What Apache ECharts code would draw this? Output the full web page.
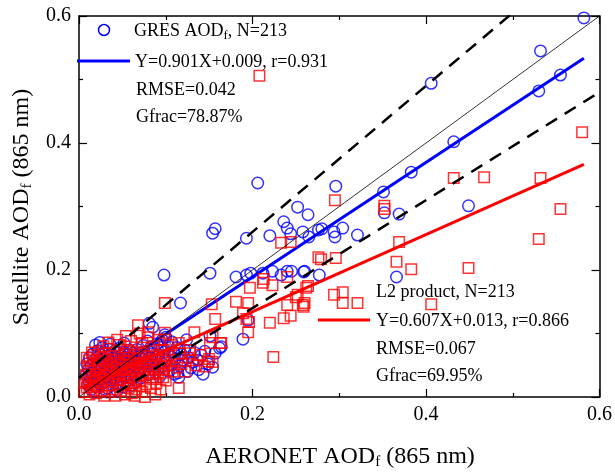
<!DOCTYPE html>
<html>
<head>
<meta charset="utf-8">
<script src="https://cdn.jsdelivr.net/npm/echarts@6/dist/echarts.min.js"></script>
<style>html,body{margin:0;padding:0;background:#fff}#c{width:615px;height:473px}</style>
</head>
<body>
<div id="c"></div>
<script>
// ---- data ----
var axisTicks = [0.0, 0.2, 0.4, 0.6];
var gresFit = [0.901, 0.009];      // slope, intercept
var l2Fit = [0.607, 0.013];
var envelope = [0.03, 0.15];       // +-(a + b*x)
var fitRange = [0.005, 0.582];

var gresPoints = [
[0.582,0.597],[0.532,0.545],[0.555,0.507],[0.530,0.482],[0.406,0.494],[0.432,0.402],[0.383,0.354],[0.351,0.323],
[0.296,0.332],[0.449,0.301],[0.352,0.290],[0.369,0.288],[0.252,0.299],[0.264,0.287],[0.206,0.337],[0.154,0.258],
[0.157,0.265],[0.193,0.250],[0.220,0.254],[0.236,0.276],[0.240,0.266],[0.244,0.257],[0.258,0.260],[0.265,0.252],
[0.276,0.263],[0.280,0.265],[0.294,0.260],[0.295,0.252],[0.304,0.266],[0.321,0.255],[0.259,0.197],[0.277,0.192],
[0.366,0.189],[0.098,0.192],[0.151,0.195],[0.181,0.189],[0.193,0.192],[0.198,0.195],[0.212,0.195],[0.223,0.198],
[0.233,0.192],[0.240,0.198],[0.245,0.198],[0.260,0.198],[0.117,0.148],[0.195,0.121],[0.189,0.091],[0.164,0.079],
[0.151,0.096],[0.162,0.077],[0.131,0.055],[0.154,0.047],[0.115,0.031],[0.085,0.110],[0.081,0.116],[0.124,0.090],
[0.099,0.098],[0.114,0.038],
[0.008,0.035],[0.009,0.052],[0.010,0.020],[0.011,0.044],[0.012,0.062],[0.013,0.030],[0.014,0.012],[0.014,0.050],
[0.015,0.038],[0.016,0.068],[0.017,0.025],[0.017,0.057],[0.018,0.045],[0.019,0.082],[0.019,0.016],[0.020,0.034],
[0.021,0.063],[0.021,0.050],[0.022,0.073],[0.023,0.028],[0.023,0.041],[0.024,0.058],[0.025,0.019],[0.025,0.066],
[0.026,0.047],[0.027,0.035],[0.027,0.078],[0.028,0.055],[0.029,0.024],[0.029,0.062],[0.030,0.043],[0.031,0.070],
[0.031,0.031],[0.032,0.052],[0.033,0.014],[0.033,0.064],[0.034,0.040],[0.035,0.075],[0.035,0.057],[0.036,0.027],
[0.037,0.048],[0.037,0.068],[0.038,0.036],[0.039,0.060],[0.039,0.019],[0.040,0.051],[0.041,0.072],[0.041,0.042],
[0.042,0.030],[0.043,0.063],[0.043,0.054],[0.044,0.022],[0.045,0.045],[0.045,0.069],[0.046,0.036],[0.047,0.058],
[0.047,0.077],[0.048,0.028],[0.049,0.049],[0.049,0.065],[0.050,0.040],[0.051,0.056],[0.051,0.016],[0.052,0.071],
[0.053,0.033],[0.053,0.048],[0.054,0.062],[0.055,0.025],[0.055,0.042],[0.056,0.066],[0.057,0.053],[0.058,0.036],
[0.058,0.074],[0.059,0.046],[0.060,0.060],[0.061,0.029],[0.061,0.052],[0.062,0.069],[0.063,0.040],[0.064,0.057],
[0.065,0.034],[0.065,0.064],[0.066,0.048],[0.067,0.075],[0.068,0.055],[0.069,0.038],[0.070,0.063],[0.071,0.045],
[0.072,0.070],[0.073,0.052],[0.074,0.081],[0.075,0.060],[0.076,0.042],[0.077,0.067],[0.078,0.054],[0.079,0.088],
[0.080,0.072],[0.081,0.048],[0.082,0.062],[0.083,0.079],[0.084,0.056],[0.085,0.068],[0.086,0.043],[0.087,0.074],
[0.088,0.060],[0.090,0.084],[0.091,0.052],[0.092,0.066],[0.094,0.078],[0.095,0.047],[0.096,0.090],[0.097,0.061],
[0.098,0.071],[0.100,0.094],[0.101,0.057],[0.103,0.080],[0.104,0.066],[0.106,0.050],[0.107,0.087],[0.109,0.071],
[0.111,0.060],[0.113,0.078],[0.116,0.049],[0.118,0.067],[0.120,0.058],[0.122,0.074],[0.126,0.062],[0.129,0.046],
[0.133,0.070],[0.137,0.058],[0.141,0.066],[0.145,0.072],[0.149,0.052],[0.157,0.069],
[0.012,0.024],[0.018,0.009],[0.024,0.086],[0.030,0.012],[0.036,0.083],[0.044,0.010],[0.052,0.085],[0.060,0.018],
[0.066,0.024],[0.071,0.030],[0.080,0.035],[0.088,0.038],[0.093,0.032],[0.103,0.041],[0.110,0.036],[0.125,0.040],
[0.138,0.043],[0.143,0.036]
];

var l2Points = [
[0.580,0.417],[0.432,0.345],[0.467,0.346],[0.532,0.345],[0.208,0.506],[0.295,0.310],[0.352,0.301],[0.352,0.296],
[0.555,0.296],[0.530,0.249],[0.449,0.203],[0.406,0.146],[0.383,0.201],[0.366,0.213],[0.369,0.244],[0.296,0.219],
[0.279,0.217],[0.294,0.161],[0.304,0.165],[0.304,0.148],[0.321,0.148],[0.264,0.175],[0.262,0.172],[0.258,0.145],
[0.259,0.142],[0.250,0.157],[0.233,0.243],[0.244,0.244],[0.276,0.220],[0.213,0.186],[0.212,0.180],[0.223,0.176],
[0.240,0.189],[0.197,0.172],[0.252,0.161],[0.181,0.150],[0.195,0.148],[0.240,0.145],[0.260,0.148],[0.189,0.132],
[0.193,0.123],[0.196,0.118],[0.244,0.128],[0.236,0.124],[0.220,0.117],[0.195,0.102],[0.164,0.085],[0.224,0.063],
[0.153,0.146],[0.099,0.148],[0.157,0.123],[0.133,0.102],[0.151,0.085],[0.163,0.085],[0.080,0.102],[0.099,0.101],
[0.099,0.090],[0.154,0.094],[0.115,0.085],[0.128,0.074],[0.128,0.069],[0.116,0.069],[0.150,0.060],[0.154,0.055],
[0.131,0.058],[0.099,0.061],[0.099,0.054],[0.097,0.038],[0.097,0.031],[0.115,0.014],[0.082,0.031],[0.070,0.017],
[0.068,0.113],[0.073,0.085],
[0.006,0.008],[0.007,0.022],[0.008,0.035],[0.009,0.015],[0.010,0.048],[0.011,0.028],[0.012,0.004],[0.012,0.058],
[0.013,0.040],[0.014,0.018],[0.015,0.032],[0.016,0.052],[0.016,0.010],[0.017,0.066],[0.018,0.026],[0.019,0.044],
[0.020,0.006],[0.020,0.036],[0.021,0.058],[0.022,0.016],[0.023,0.048],[0.023,0.072],[0.024,0.030],[0.025,0.040],
[0.026,0.010],[0.026,0.062],[0.027,0.022],[0.028,0.052],[0.029,0.034],[0.029,0.002],[0.030,0.068],[0.031,0.044],
[0.032,0.018],[0.032,0.056],[0.033,0.028],[0.034,0.076],[0.035,0.038],[0.035,0.008],[0.036,0.050],[0.037,0.064],
[0.038,0.024],[0.038,0.042],[0.039,0.012],[0.040,0.058],[0.041,0.032],[0.042,0.070],[0.042,0.002],[0.043,0.046],
[0.044,0.020],[0.045,0.054],[0.045,0.036],[0.046,0.082],[0.047,0.028],[0.048,0.062],[0.048,0.010],[0.049,0.042],
[0.050,0.050],[0.051,0.018],[0.052,0.068],[0.052,0.034],[0.053,0.004],[0.054,0.056],[0.055,0.026],[0.055,0.044],
[0.056,0.074],[0.057,0.014],[0.058,0.038],[0.058,0.062],[0.059,0.030],[0.060,0.088],[0.060,0.050],[0.061,0.006],
[0.062,0.042],[0.063,0.066],[0.063,0.022],[0.064,0.054],[0.065,0.034],[0.066,0.078],[0.066,0.012],[0.067,0.046],
[0.068,0.060],[0.069,0.026],[0.070,0.040],[0.071,0.070],[0.072,0.052],[0.073,0.008],[0.074,0.034],[0.075,0.064],
[0.076,0.044],[0.077,0.020],[0.078,0.056],[0.079,0.094],[0.080,0.038],[0.081,0.072],[0.082,0.048],[0.083,0.014],
[0.084,0.060],[0.085,0.028],[0.086,0.080],[0.087,0.042],[0.088,0.052],[0.089,0.022],[0.090,0.066],[0.091,0.036],
[0.092,0.090],[0.093,0.048],[0.094,0.012],[0.095,0.058],[0.096,0.074],[0.098,0.044],[0.100,0.026],[0.102,0.064],
[0.104,0.050],[0.106,0.082],[0.108,0.040],[0.110,0.058],[0.113,0.046],[0.118,0.052],[0.122,0.040],[0.126,0.062],
[0.135,0.050],[0.140,0.066],[0.145,0.048],[0.148,0.056],[0.088,0.004],[0.076,0.000],[0.064,0.002],[0.044,0.090],
[0.054,0.096],[0.070,0.100],[0.034,0.086],[0.028,0.080],[0.015,0.070],[0.009,0.062]
];

var gresLegend = ['GRES AOD{s|f}, N=213', 'Y=0.901X+0.009, r=0.931', 'RMSE=0.042', 'Gfrac=78.87%'];
var l2Legend = ['L2 product, N=213', 'Y=0.607X+0.013, r=0.866', 'RMSE=0.067', 'Gfrac=69.95%'];

// ---- chart ----
var FONT = '"Liberation Serif", "Times New Roman", serif';
var chart = echarts.init(document.getElementById('c'), null, {renderer: 'canvas'});

function fitLine(f) {
  return [[fitRange[0], f[0] * fitRange[0] + f[1]], [fitRange[1], f[0] * fitRange[1] + f[1]]];
}
var upperEnv = [[0, envelope[0]], [0.6, envelope[0] + (1 + envelope[1]) * 0.6]];
var lowerEnv = [[0, -envelope[0]], [0.6, -envelope[0] + (1 - envelope[1]) * 0.6]];

function axisCommon(pos, showLabel) {
  return {
    type: 'value', min: 0, max: 0.6, interval: 0.2, position: pos,
    axisLine: {show: true, onZero: false, lineStyle: {color: '#000', width: 1.5}},
    axisTick: {show: true, inside: true, length: 8, lineStyle: {color: '#000', width: 1.2}},
    minorTick: {show: true, splitNumber: 2, length: 4, lineStyle: {color: '#000', width: 1.2}},
    splitLine: {show: false}, minorSplitLine: {show: false},
    axisLabel: {show: showLabel, color: '#000', fontFamily: FONT, fontSize: 20, margin: 8,
      formatter: function (v) { return v.toFixed(1); }}
  };
}

var sub = {fontSize: 13, fontFamily: FONT, color: '#000', padding: [9, 0, 0, 0]};
function txt(x, y, t, size) {
  return {type: 'text', x: x, y: y, z: 100,
    style: {text: t, fontFamily: FONT, fontSize: size || 18, fill: '#000', verticalAlign: 'middle',
      rich: {s: sub}}};
}

var graphics = [
  {type: 'circle', z: 100, shape: {cx: 104, cy: 30, r: 5.5}, style: {fill: 'none', stroke: '#0000ff', lineWidth: 1.5}},
  {type: 'line', z: 100, shape: {x1: 77, y1: 61, x2: 130, y2: 61}, style: {stroke: '#0000ff', lineWidth: 3}},
  txt(134, 31, gresLegend[0]), txt(135, 62, gresLegend[1]), txt(136, 90, gresLegend[2]), txt(136, 117, gresLegend[3]),
  {type: 'line', z: 100, shape: {x1: 318, y1: 320, x2: 370, y2: 320}, style: {stroke: '#ff0000', lineWidth: 3}},
  txt(376, 292, l2Legend[0]), txt(376, 321, l2Legend[1]), txt(376, 349, l2Legend[2]), txt(376, 376, l2Legend[3]),
  {type: 'text', z: 100, x: 340, y: 457,
    style: {text: 'AERONET AOD{s|f} (865 nm)', fontFamily: FONT, fontSize: 24, fill: '#000', align: 'center', verticalAlign: 'middle',
      rich: {s: {fontSize: 15, fontFamily: FONT, padding: [11, 0, 0, 0]}}}},
  {type: 'text', z: 100, x: 22, y: 207, rotation: Math.PI / 2,
    style: {text: 'Satellite AOD{s|f} (865 nm)', fontFamily: FONT, fontSize: 24, fill: '#000', align: 'center', verticalAlign: 'middle',
      rich: {s: {fontSize: 15, fontFamily: FONT, padding: [11, 0, 0, 0]}}}}
];

chart.setOption({
  animation: false,
  backgroundColor: '#fff',
  grid: {left: 79, top: 16, right: 13, bottom: 76, containLabel: false},
  xAxis: [axisCommon('bottom', true), axisCommon('top', false)],
  yAxis: [axisCommon('left', true), axisCommon('right', false)],
  series: [
    {type: 'scatter', name: 'GRES', data: gresPoints, symbol: 'circle', symbolSize: 11.5, z: 2,
      itemStyle: {color: 'rgba(0,0,0,0)', borderColor: '#0000ff', borderWidth: 1.5}, emphasis: {disabled: true}},
    {type: 'line', data: fitLine(gresFit), symbol: 'none', z: 3, lineStyle: {color: '#0000ff', width: 3}},
    {type: 'scatter', name: 'L2', data: l2Points, symbol: 'rect', symbolSize: 10.5, z: 4,
      itemStyle: {color: 'rgba(0,0,0,0)', borderColor: '#ff0000', borderWidth: 1.5}, emphasis: {disabled: true}},
    {type: 'line', data: fitLine(l2Fit), symbol: 'none', z: 5, lineStyle: {color: '#ff0000', width: 3}},
    {type: 'line', data: [[0, 0], [0.6, 0.6]], symbol: 'none', z: 6, lineStyle: {color: '#000', width: 0.8}},
    {type: 'line', data: upperEnv, symbol: 'none', z: 6, clip: true, lineStyle: {color: '#000', width: 2.5, type: [13, 9]}},
    {type: 'line', data: lowerEnv, symbol: 'none', z: 6, clip: true, lineStyle: {color: '#000', width: 2.5, type: [13, 9]}}
  ],
  graphic: graphics
});
</script>
</body>
</html>
